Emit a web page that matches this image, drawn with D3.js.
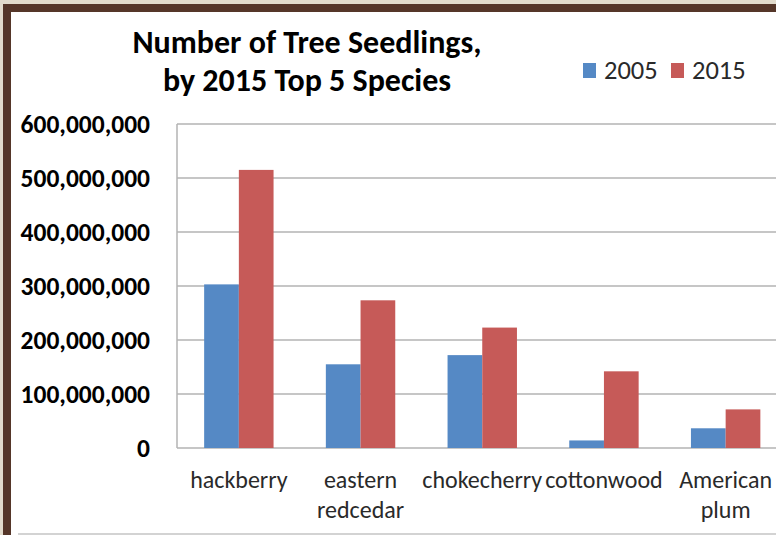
<!DOCTYPE html>
<html>
<head>
<meta charset="utf-8">
<script src="https://cdn.jsdelivr.net/npm/d3@7"></script>
<style>
  html, body { margin: 0; padding: 0; background: #e2dbcc; }
  svg { display: block; }
</style>
</head>
<body>
<svg id="chart" width="776" height="535"></svg>
<script>
const categories = ["hackberry", "eastern\nredcedar", "chokecherry", "cottonwood", "American\nplum"];
const seriesNames = ["2005", "2015"];
const values2005 = [303000000, 155000000, 172000000, 14000000, 36500000];
const values2015 = [515000000, 273500000, 223000000, 142000000, 71500000];
const yTicks = [0, 100000000, 200000000, 300000000, 400000000, 500000000, 600000000];
const titleLines = ["Number of Tree Seedlings,", "by 2015 Top 5 Species"];
const colors = ["#5589c5", "#c65a58"];

const svg = d3.select("#chart");
const W = 776, H = 535;
const font = "Carlito, Calibri, Lato, sans-serif";

// frame
svg.append("rect").attr("x", 3).attr("y", 4).attr("width", W).attr("height", H)
  .attr("fill", "#553629");
svg.append("rect").attr("x", 11).attr("y", 12).attr("width", W).attr("height", H)
  .attr("fill", "#ffffff");
svg.append("line").attr("x1", 18).attr("x2", W).attr("y1", 534).attr("y2", 534)
  .attr("stroke", "#c4c4c4").attr("stroke-width", 1.5);

const plotLeft = 178, plotTop = 124, plotBottom = 448;
const bandW = 121.7;
const x = d3.scaleBand().domain(categories)
  .range([plotLeft, plotLeft + bandW * categories.length]).padding(0);
const y = d3.scaleLinear().domain([0, 600000000]).range([plotBottom, plotTop]);
const groupW = 69.4;
const x1 = d3.scaleBand().domain(seriesNames).range([-groupW / 2, groupW / 2]).padding(0);

// gridlines
const g = svg.append("g");
g.selectAll("line.grid").data(yTicks).join("line")
  .attr("class", "grid")
  .attr("x1", plotLeft - 1).attr("x2", W)
  .attr("y1", d => y(d)).attr("y2", d => y(d))
  .attr("stroke", "#b3b3b3").attr("stroke-width", 1.5);
g.append("line").attr("x1", plotLeft - 1).attr("x2", plotLeft - 1)
  .attr("y1", plotTop).attr("y2", plotBottom)
  .attr("stroke", "#b3b3b3").attr("stroke-width", 1.5);

// y axis labels
const yAxis = d3.axisLeft(y).tickValues(yTicks).tickFormat(d3.format(",")).tickSize(0).tickPadding(27);
const ya = svg.append("g").attr("transform", `translate(${plotLeft - 1},0)`).call(yAxis);
ya.select(".domain").remove();
ya.selectAll("text").attr("font-family", font).attr("font-weight", "bold")
  .attr("font-size", 25.5).attr("fill", "#000");

// bars
const data = categories.map((c, i) => ({ c, v: [values2005[i], values2015[i]] }));
const groups = svg.append("g").selectAll("g").data(data).join("g")
  .attr("transform", d => `translate(${x(d.c) + x.bandwidth() / 2},0)`);
groups.selectAll("rect").data(d => d.v.map((v, k) => ({ s: seriesNames[k], v, k }))).join("rect")
  .attr("x", d => x1(d.s)).attr("width", x1.bandwidth())
  .attr("y", d => y(d.v)).attr("height", d => y(0) - y(d.v))
  .attr("fill", d => colors[d.k]);

// category labels
const cl = svg.append("g").selectAll("text").data(categories).join("text")
  .attr("x", d => x(d) + x.bandwidth() / 2)
  .attr("y", 488)
  .attr("text-anchor", "middle")
  .attr("font-family", font).attr("font-size", 24).attr("fill", "#2a2a2a");
cl.selectAll("tspan").data(d => d.split("\n")).join("tspan")
  .attr("x", function () { return d3.select(this.parentNode).attr("x"); })
  .attr("dy", (d, i) => i === 0 ? 0 : 30)
  .text(d => d);

// title
svg.append("g").selectAll("text").data(titleLines).join("text")
  .attr("x", 307).attr("y", (d, i) => 53 + i * 38)
  .attr("text-anchor", "middle")
  .attr("font-family", font).attr("font-weight", "bold").attr("font-size", 32)
  .attr("fill", "#000").text(d => d);

// legend
const legX = [583, 671];
const leg = svg.append("g").selectAll("g").data(seriesNames).join("g")
  .attr("transform", (d, i) => `translate(${legX[i]},63)`);
leg.append("rect").attr("width", 13).attr("height", 15).attr("fill", (d, i) => colors[i]);
leg.append("text").attr("x", 21).attr("y", 16)
  .attr("font-family", font).attr("font-size", 26.5).attr("fill", "#2a2a2a").text(d => d);
</script>
</body>
</html>
